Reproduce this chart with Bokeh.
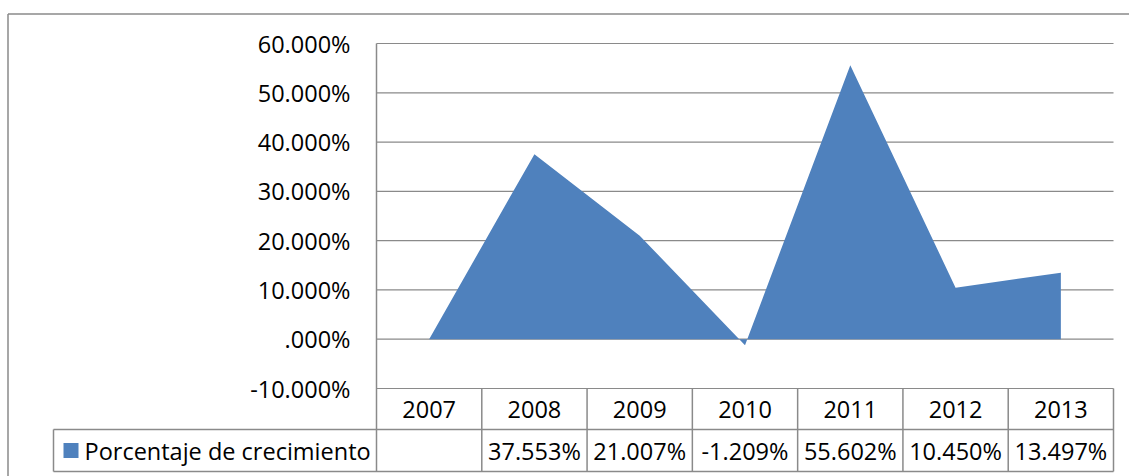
from bokeh.plotting import figure
from bokeh.models import Range1d
from bokeh.core.properties import value
from bokeh.embed import file_html
from bokeh.resources import INLINE

# ---- data ----
years = ["2007", "2008", "2009", "2010", "2011", "2012", "2013"]
growth = [None, 37.553, 21.007, -1.209, 55.602, 10.450, 13.497]
series_name = "Porcentaje de crecimiento"
y_ticks = [60, 50, 40, 30, 20, 10, 0, -10]
y_tick_labels = ["60.000%", "50.000%", "40.000%", "30.000%", "20.000%",
                 "10.000%", ".000%", "-10.000%"]

value_labels = ["" if v is None else f"{v:.3f}%" for v in growth]
area_vals = [0 if v is None else v for v in growth]   # blank cell plotted as zero
xs = [i + 0.5 for i in range(len(years))]

# ---- layout (pixels inside the figure) ----
W, H = 1129, 476
PX_LEFT, PX_RIGHT = 376, 1113
PY_TOP, PY_BOT = 43, 388
YMAX, YMIN = 60, -10
ncol = len(years)
col_w = (PX_RIGHT - PX_LEFT) / ncol
unit = (PY_BOT - PY_TOP) / (YMAX - YMIN)

def fx(px):
    return (px - PX_LEFT) / col_w

def fy(py):
    return YMAX - (py - PY_TOP) / unit

FONT = value("Open Sans")
FS = "23.5px"
GRID = "#8a8a8a"
BLUE = "#4F81BD"

p = figure(width=W, height=H, output_backend="svg", toolbar_location=None,
           x_range=Range1d(fx(0), fx(W)), y_range=Range1d(fy(H), fy(0)),
           x_axis_type=None, y_axis_type=None, min_border=0)
p.outline_line_color = None
p.background_fill_color = "white"
p.border_fill_color = "white"

# outer chart border (extends past the window on right and bottom)
p.segment(x0=[fx(7.5)], y0=[fy(13.5)], x1=[fx(W)], y1=[fy(13.5)], line_color=GRID, line_width=1.5)
p.segment(x0=[fx(7.5)], y0=[fy(13.5)], x1=[fx(7.5)], y1=[fy(H)], line_color=GRID, line_width=1.5)

# gridlines
p.segment(x0=[0] * len(y_ticks), x1=[ncol] * len(y_ticks), y0=y_ticks, y1=y_ticks,
          line_color=GRID, line_width=1.2)

# area
p.varea(x=xs, y1=[0] * len(xs), y2=area_vals, fill_color=BLUE)

# value axis line
row1_bot = fy(429)
tbl_bot = fy(471)
p.segment(x0=[0], y0=[YMAX], x1=[0], y1=[tbl_bot], line_color=GRID, line_width=1.5)

# y tick labels
p.text(x=[fx(350)] * len(y_ticks), y=y_ticks, text=y_tick_labels,
       text_align="right", text_baseline="middle", text_font=FONT,
       text_font_size=FS, text_color="black")

# data table
p.segment(x0=list(range(1, ncol + 1)), y0=[YMIN] * ncol,
          x1=list(range(1, ncol + 1)), y1=[tbl_bot] * ncol,
          line_color=GRID, line_width=1.5)
leg_left = fx(53)
p.segment(x0=[leg_left, leg_left], y0=[row1_bot, tbl_bot], x1=[ncol, ncol], y1=[row1_bot, tbl_bot],
          line_color=GRID, line_width=1.5)
p.segment(x0=[leg_left], y0=[row1_bot], x1=[leg_left], y1=[tbl_bot],
          line_color=GRID, line_width=1.5)

row1_mid = (YMIN + row1_bot) / 2
row2_mid = (row1_bot + tbl_bot) / 2
p.text(x=xs, y=[row1_mid] * ncol, text=years, text_align="center",
       text_baseline="middle", text_font=FONT, text_font_size=FS, text_color="black")
p.text(x=xs, y=[row2_mid] * ncol, text=value_labels, text_align="center",
       text_baseline="middle", text_font=FONT, text_font_size=FS, text_color="black")

# legend key inside the table
p.scatter(x=[fx(70.5)], y=[row2_mid], marker="square", size=15,
          fill_color=BLUE, line_color=None)
p.text(x=[fx(84)], y=[row2_mid], text=[series_name], text_align="left",
       text_baseline="middle", text_font=FONT, text_font_size=FS, text_color="black")

open("out.html", "w").write(file_html(p, INLINE))
